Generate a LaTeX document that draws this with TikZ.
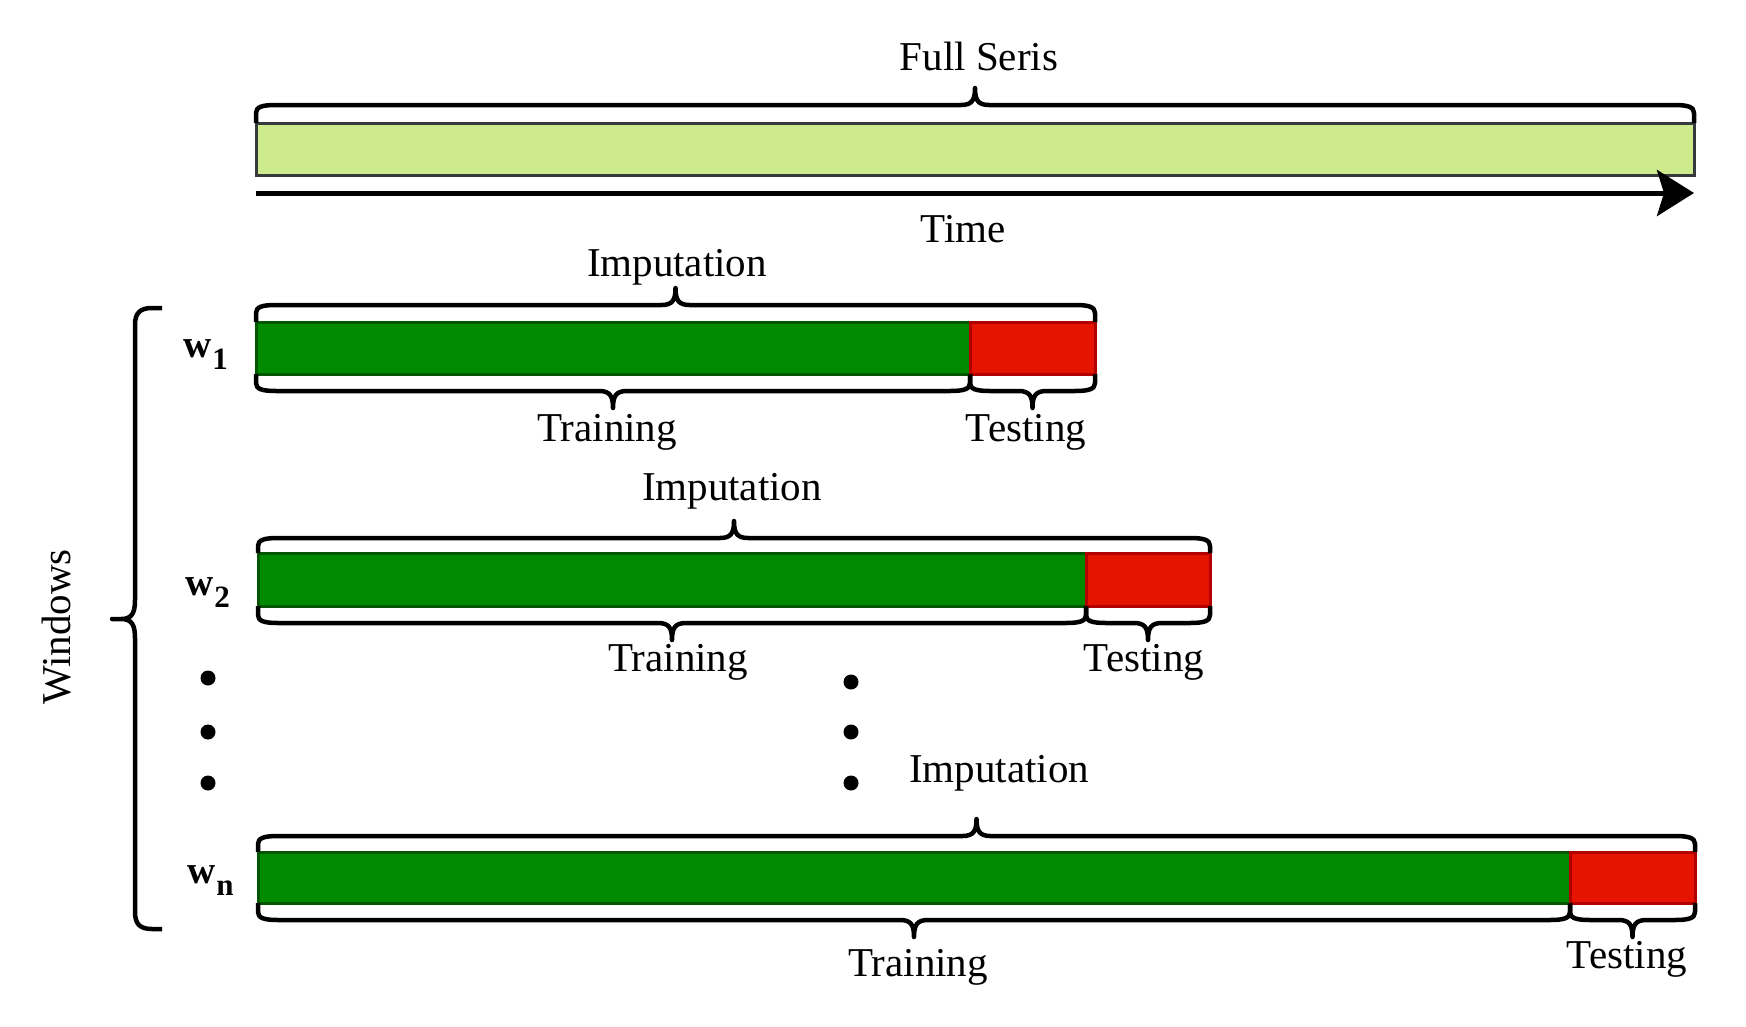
\documentclass[tikz,border=0pt]{standalone}
\usepackage{fontspec}
\setmainfont{Liberation Serif}
\usetikzlibrary{arrows.meta}

\definecolor{seriesfill}{HTML}{CDEB8B}
\definecolor{seriesline}{HTML}{36393D}
\definecolor{trainfill}{HTML}{008A00}
\definecolor{trainline}{HTML}{005700}
\definecolor{testfill}{HTML}{E51400}
\definecolor{testline}{HTML}{B20000}

\tikzset{
  brace/.style={draw=black, line width=4.5pt, line join=round},
  seriesbar/.style={fill=seriesfill, draw=seriesline, line width=3pt},
  trainbar/.style={fill=trainfill, draw=trainline, line width=3pt},
  testbar/.style={fill=testfill, draw=testline, line width=3pt},
  lbl/.style={inner sep=0pt, font=\fontsize{41}{41}\selectfont},
  dot/.style={fill=black, draw=none},
}

% horizontal curly brace: x0, x1, line y, end y, tip direction (-1 up, +1 down)
\newcommand\hbrace[5]{%
  \pgfmathsetmacro\bxc{(#1+#2)/2}%
  \draw[brace] (#1,#4) -- (#1,{#3-8*#5})
    .. controls (#1,{#3-2*#5}) and ({#1+6},#3) .. ({#1+20},#3)
    -- ({\bxc-14},#3)
    .. controls ({\bxc-3},#3) and (\bxc,{#3+5*#5}) .. (\bxc,{#3+17*#5})
    .. controls (\bxc,{#3+5*#5}) and ({\bxc+3},#3) .. ({\bxc+14},#3)
    -- ({#2-20},#3)
    .. controls ({#2-6},#3) and (#2,{#3-2*#5}) .. (#2,{#3-8*#5})
    -- (#2,#4);%
}

% window label: bold w with a lowered index
\newcommand\wlab[1]{{\fontsize{39}{39}\selectfont\bfseries w}\kern1pt\raisebox{-12pt}{\fontsize{31}{31}\selectfont\bfseries #1}}

\begin{document}
\begin{tikzpicture}[x=1pt, y=-1pt]
\useasboundingbox (0,0) rectangle (1746,1026);

% full series
\draw[seriesbar] (256,123) rectangle (1694,175);
\hbrace{256}{1694}{105}{123}{-1}
\node[lbl] (full) at (979,56) {Full Seris};

% time axis
\coordinate (t0) at (256,193);
\coordinate (t1) at (1694,193);
\draw[line width=5pt, -{Stealth[length=37pt,width=46pt,inset=7pt]}] (t0) -- (t1);
\node[lbl] (time) at (963,229) {Time};

% window 1
\draw[trainbar] (256,322) rectangle (970,374);
\draw[testbar] (970,322) rectangle (1095,374);
\hbrace{256}{1095}{305}{322}{-1}
\hbrace{256}{970}{391}{374}{1}
\hbrace{970}{1095}{391}{374}{1}
\node[lbl] (imp1) at (677,267) {Imputation};
\node[lbl] (train1) at (607,432) {Training};
\node[lbl] (test1) at (1026,432) {Testing};
\node[anchor=base west, inner sep=0pt] (w1) at (183,357) {\wlab{1}};

% window 2
\draw[trainbar] (258,553) rectangle (1086,606);
\draw[testbar] (1086,553) rectangle (1210,606);
\hbrace{258}{1210}{538}{553}{-1}
\hbrace{258}{1086}{623}{606}{1}
\hbrace{1086}{1210}{623}{606}{1}
\node[lbl] (imp2) at (732,491) {Imputation};
\node[lbl] (train2) at (678,662) {Training};
\node[lbl] (test2) at (1144,662) {Testing};
\node[anchor=base west, inner sep=0pt] (w2) at (185,595) {\wlab{2}};

% ellipsis dots
\foreach \yy in {678,732,783} \fill[dot] (208,\yy) circle (7.5);
\foreach \yy in {682,732,783} \fill[dot] (851,\yy) circle (7.5);

% window n
\draw[trainbar] (258,852) rectangle (1570,903);
\draw[testbar] (1570,852) rectangle (1695,903);
\hbrace{258}{1695}{836}{852}{-1}
\hbrace{258}{1570}{920}{903}{1}
\hbrace{1570}{1695}{920}{903}{1}
\node[lbl] (impn) at (999,773) {Imputation};
\node[lbl] (trainn) at (918,967) {Training};
\node[lbl] (testn) at (1627,959) {Testing};
\node[anchor=base west, inner sep=0pt] (wn) at (187,883) {\wlab{n}};

% windows brace
\draw[brace] (162,308) -- (152,308)
  .. controls (140,308) and (135,313) .. (135,325)
  -- (135,600)
  .. controls (135,613) and (132,619) .. (121,619) -- (112,619) -- (121,619)
  .. controls (132,619) and (135,625) .. (135,638)
  -- (135,912)
  .. controls (135,924) and (140,929) .. (152,929) -- (162,929);
\node[lbl, rotate=90] (windows) at (57,627) {Windows};
\end{tikzpicture}
\end{document}
